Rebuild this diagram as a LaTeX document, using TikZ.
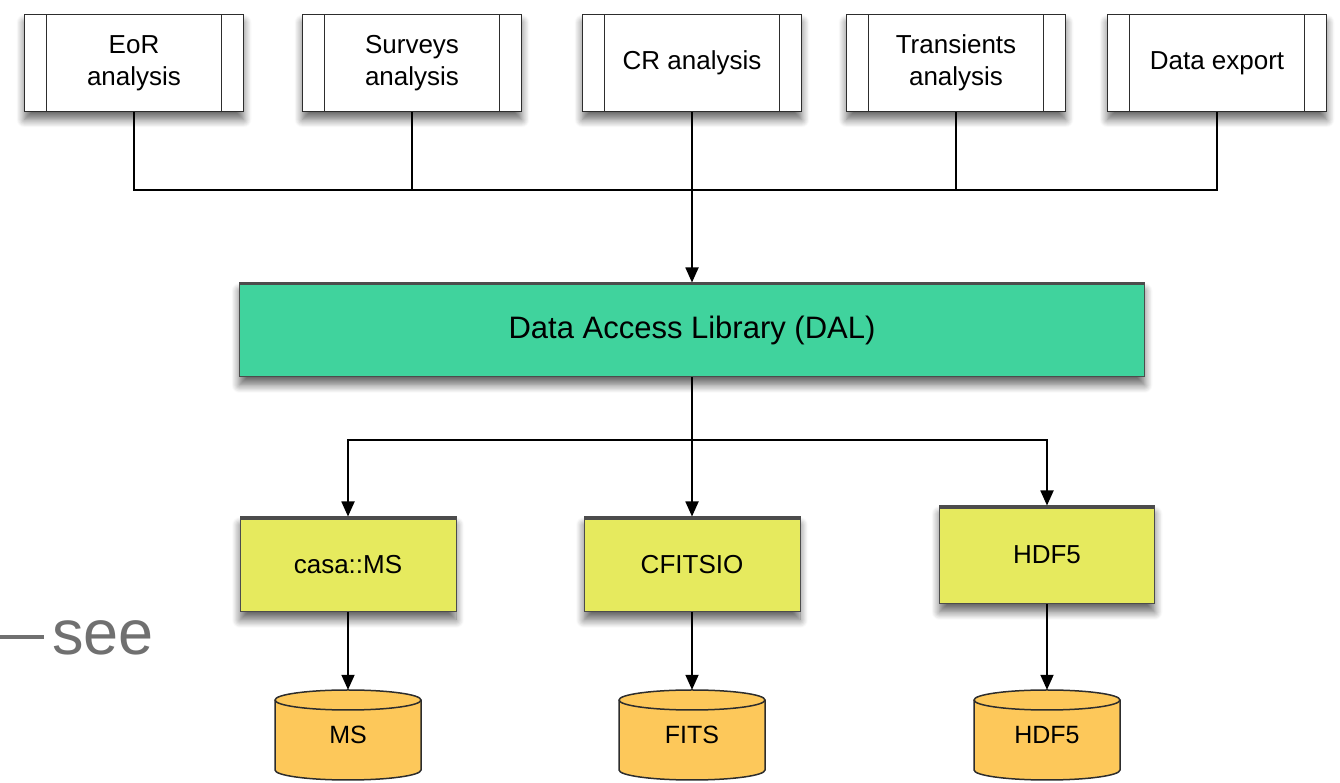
\documentclass[tikz,border=0pt]{standalone}
\usepackage{fontspec}
\setmainfont{Liberation Sans}
\usetikzlibrary{arrows.meta,shadows.blur}
\definecolor{dalgreen}{RGB}{64,211,157}
\definecolor{libyellow}{RGB}{230,234,94}
\definecolor{cylorange}{RGB}{253,200,90}
\definecolor{edgegray}{RGB}{45,45,45}
\definecolor{seegray}{RGB}{112,112,112}
\begin{document}
\begin{tikzpicture}[x=1pt,y=1pt,
  shadowed/.style={blur shadow={shadow xshift=0pt,shadow yshift=-8pt,shadow blur radius=8pt,shadow blur steps=10,shadow opacity=60}},
  procbox/.style={shadowed, draw=edgegray, line width=1.8pt, fill=white,
    minimum width=219pt, minimum height=97pt, inner sep=0pt, align=center,
    font=\fontsize{26}{32}\selectfont,
    path picture={\draw[edgegray,line width=1.8pt]
      ([xshift=22pt]path picture bounding box.north west) -- ([xshift=22pt]path picture bounding box.south west)
      ([xshift=-22pt]path picture bounding box.north east) -- ([xshift=-22pt]path picture bounding box.south east);}},
  dalbox/.style={shadowed, draw=edgegray!85, line width=1pt, fill=dalgreen,
    minimum width=905pt, minimum height=94pt, inner sep=0pt,
    font=\fontsize{31}{36}\selectfont,
    path picture={\draw[edgegray!85,line width=5pt]
      (path picture bounding box.north west) -- (path picture bounding box.north east);}},
  libbox/.style={shadowed, draw=edgegray!85, line width=1pt, fill=libyellow,
    minimum width=216pt, minimum height=95pt, inner sep=0pt,
    font=\fontsize{26}{30}\selectfont,
    path picture={\draw[edgegray!85,line width=6pt]
      (path picture bounding box.north west) -- (path picture bounding box.north east);}},
  cylbox/.style={minimum width=150pt, minimum height=94pt, inner sep=0pt,
    font=\fontsize{25}{30}\selectfont,
    path picture={
      \draw[edgegray, line width=1.5pt, fill=cylorange]
        ([shift={(-73pt,35pt)}]path picture bounding box.center) -- ++(0,-70)
        arc[start angle=180, end angle=360, x radius=73pt, y radius=10pt] -- ++(0,70)
        arc[start angle=0, end angle=180, x radius=73pt, y radius=10pt] -- cycle;
      \draw[edgegray, line width=1.5pt]
        ([shift={(-73pt,35pt)}]path picture bounding box.center)
        arc[start angle=180, end angle=360, x radius=73pt, y radius=10pt];}},
  conn/.style={draw=black, line width=1.8pt},
  arr/.style={conn, -{Triangle[length=15pt,width=13pt]}}
]
\useasboundingbox (0,0) rectangle (1340,783);
\clip (0,0) rectangle (1340,783);

% top row
\node[procbox] (eor)   at (134,720)  {EoR\\analysis};
\node[procbox] (surv)  at (412,720)  {Surveys\\analysis};
\node[procbox] (cr)    at (692,720)  {CR analysis};
\node[procbox] (trans) at (956,720)  {Transients\\analysis};
\node[procbox] (data)  at (1217,720) {Data export};

% DAL
\node[dalbox] (dal) at (692,453) {Data Access Library (DAL)};

% libraries
\node[libbox] (casa)  at (348,218.5) {casa::MS};
\node[libbox] (cfits) at (692,218.5) {CFITSIO};
\node[libbox, minimum width=215pt, minimum height=98pt] (hdf) at (1047,228) {HDF5};

% storage
\node[cylbox] (ms)    at (348,48)  {MS};
\node[cylbox] (fits)  at (692,48)  {FITS};
\node[cylbox] (hdfst) at (1047,48) {HDF5};

% see
\node[anchor=base west, inner sep=0pt, text=seegray, font=\fontsize{63}{70}\selectfont] (see) at (52,128) {see};
\coordinate (seedash) at (0,146);
\draw[seegray, line width=4pt] (seedash) -- ++(44,0);

% connectors top
\coordinate (bus1) at (692,593);
\foreach \n in {eor,surv,trans,data} \draw[conn] (\n.south) |- (bus1);
\draw[conn] (cr.south) -- (bus1);
\draw[arr] (bus1) -- (dal.north);

% connectors bottom
\coordinate (bus2) at (692,343);
\draw[conn] (dal.south) -- (bus2);
\draw[arr] (bus2) -| (casa.north);
\draw[arr] (bus2) -| (hdf.north);
\draw[arr] (bus2) -- (cfits.north);

\draw[arr, shorten >=-2pt] (casa.south) -- (ms.north);
\draw[arr, shorten >=-2pt] (cfits.south) -- (fits.north);
\draw[arr, shorten >=-2pt] (hdf.south) -- (hdfst.north);
\end{tikzpicture}
\end{document}
